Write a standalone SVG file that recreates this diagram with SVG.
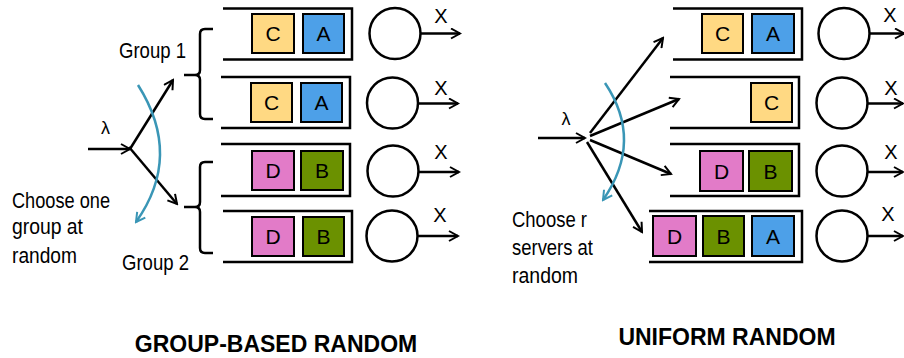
<svg xmlns="http://www.w3.org/2000/svg" width="904" height="358" viewBox="0 0 904 358">
<style>
.q{fill:none;stroke:#000;stroke-width:2.5}
.b{stroke:#000;stroke-width:2}
.c{fill:#FFD983}.a{fill:#4DA0E8}.d{fill:#E27BC8}.g{fill:#6B9100}
.bl{font-family:"Liberation Sans",Arial,sans-serif;font-size:21px;text-anchor:middle;fill:#000}
.srv{fill:#fff;stroke:#000;stroke-width:2.5}
.ln{fill:none;stroke:#000;stroke-width:2.5}
.blue{fill:none;stroke:#3A96B6;stroke-width:2.5}
.lbl{font-family:"Liberation Sans",Arial,sans-serif;font-size:22px;fill:#000}
.x{font-family:"Liberation Sans",Arial,sans-serif;font-size:20px;text-anchor:middle;fill:#000}
.lam{font-family:"Liberation Sans",Arial,sans-serif;font-size:18px;text-anchor:middle;fill:#000}
.title{font-family:"Liberation Sans",Arial,sans-serif;font-size:23px;font-weight:bold;text-anchor:middle;fill:#000}
</style>
<defs>
<marker id="ah" viewBox="0 0 12 12" refX="10" refY="6" markerWidth="12" markerHeight="12" markerUnits="userSpaceOnUse" orient="auto">
<path d="M1,1 L10,6 L1,11" fill="none" stroke="#000" stroke-width="2"/>
</marker>
<marker id="ahb" viewBox="0 0 12 12" refX="10" refY="6" markerWidth="12" markerHeight="12" markerUnits="userSpaceOnUse" orient="auto">
<path d="M1,1 L10,6 L1,11" fill="none" stroke="#3A96B6" stroke-width="2"/>
</marker>
</defs>
<rect width="904" height="358" fill="#fff"/>

<!-- LEFT PANEL -->
<g id="L-queue1">
<path class="q" d="M223 8.5 H352 V59.5 H223"/>
<rect class="b c" x="252" y="14" width="42" height="39"/><text class="bl" x="273" y="41">C</text>
<rect class="b a" x="303" y="14" width="41" height="39"/><text class="bl" x="323.5" y="41">A</text>
</g>
<g id="L-queue2">
<path class="q" d="M221 77 H350 V128 H221"/>
<rect class="b c" x="251" y="83" width="41" height="39"/><text class="bl" x="271.5" y="110">C</text>
<rect class="b a" x="301" y="83" width="41" height="39"/><text class="bl" x="321.5" y="110">A</text>
</g>
<g id="L-queue3">
<path class="q" d="M221 144 H350 V196 H221"/>
<rect class="b d" x="252" y="151" width="42" height="39"/><text class="bl" x="273" y="178">D</text>
<rect class="b g" x="301" y="151" width="42" height="39"/><text class="bl" x="322" y="178">B</text>
</g>
<g id="L-queue4">
<path class="q" d="M223 211 H352 V262 H223"/>
<rect class="b d" x="252" y="217" width="42" height="39"/><text class="bl" x="273" y="244">D</text>
<rect class="b g" x="303" y="217" width="41" height="39"/><text class="bl" x="323.5" y="244">B</text>
</g>
<g id="L-server1"><circle class="srv" cx="395" cy="33.5" r="25.5"/><text class="x" x="441" y="23">X</text></g>
<g id="L-server2"><circle class="srv" cx="392.5" cy="103" r="25.5"/><text class="x" x="441" y="95">X</text></g>
<g id="L-server3"><circle class="srv" cx="393" cy="171" r="25.5"/><text class="x" x="441" y="159">X</text></g>
<g id="L-server4"><circle class="srv" cx="392" cy="236" r="25.5"/><text class="x" x="440" y="222">X</text></g>
<g id="L-group1">
<path class="ln" d="M213 29 H205 Q200 29 200 34 V70 Q200 75 195 75 H184 M195 75 Q200 75 200 80 V114 Q200 119 205 119 H213"/>
<text class="lbl" x="119" y="58" textLength="67" lengthAdjust="spacingAndGlyphs">Group 1</text>
</g>
<g id="L-group2">
<path class="ln" d="M213 162 H205 Q200 162 200 167 V202 Q200 207 195 207 H184 M195 207 Q200 207 200 212 V248 Q200 253 205 253 H213"/>
<text class="lbl" x="122" y="270" textLength="67" lengthAdjust="spacingAndGlyphs">Group 2</text>
</g>
<g id="L-note">
<text class="lam" x="105.5" y="134">λ</text>
<text class="lbl" x="12" y="208" textLength="98" lengthAdjust="spacingAndGlyphs">Choose one</text>
<text class="lbl" x="12" y="234" textLength="71" lengthAdjust="spacingAndGlyphs">group at</text>
<text class="lbl" x="12" y="263" textLength="65" lengthAdjust="spacingAndGlyphs">random</text>
</g>

<!-- RIGHT PANEL -->
<g id="R-queue1">
<path class="q" d="M673 8.5 H802 V59.5 H673"/>
<rect class="b c" x="702" y="14" width="41" height="39"/><text class="bl" x="722.5" y="41">C</text>
<rect class="b a" x="752" y="14" width="42" height="39"/><text class="bl" x="773" y="41">A</text>
</g>
<g id="R-queue2">
<path class="q" d="M670 77 H799 V128 H670"/>
<rect class="b c" x="751" y="83" width="41" height="39"/><text class="bl" x="771.5" y="110">C</text>
</g>
<g id="R-queue3">
<path class="q" d="M670 144 H799 V196 H670"/>
<rect class="b d" x="700" y="151" width="43" height="40"/><text class="bl" x="721.5" y="178.5">D</text>
<rect class="b g" x="749" y="151" width="43" height="40"/><text class="bl" x="770.5" y="178.5">B</text>
</g>
<g id="R-queue4">
<path class="q" d="M649 211 H802 V262 H649"/>
<rect class="b d" x="653" y="216" width="43" height="40"/><text class="bl" x="674.5" y="243.5">D</text>
<rect class="b g" x="703" y="216" width="41" height="40"/><text class="bl" x="723.5" y="243.5">B</text>
<rect class="b a" x="752" y="216" width="42" height="40"/><text class="bl" x="773" y="243.5">A</text>
</g>
<g id="R-server1"><circle class="srv" cx="844" cy="33.5" r="25.5"/><text class="x" x="890" y="22">X</text></g>
<g id="R-server2"><circle class="srv" cx="842" cy="103" r="25.5"/><text class="x" x="891" y="95">X</text></g>
<g id="R-server3"><circle class="srv" cx="842" cy="171" r="25.5"/><text class="x" x="891" y="159">X</text></g>
<g id="R-server4"><circle class="srv" cx="842" cy="236" r="25.5"/><text class="x" x="888" y="221">X</text></g>
<g id="R-note">
<text class="lam" x="566" y="125">λ</text>
<text class="lbl" x="512" y="227" textLength="75" lengthAdjust="spacingAndGlyphs">Choose r</text>
<text class="lbl" x="512" y="255" textLength="81" lengthAdjust="spacingAndGlyphs">servers at</text>
<text class="lbl" x="512" y="283" textLength="66" lengthAdjust="spacingAndGlyphs">random</text>
</g>

<g id="connectors">
<!-- left -->
<path class="ln" d="M88 149 H130" marker-end="url(#ah)"/>
<path class="ln" d="M130 149 L173 80" marker-end="url(#ah)"/>
<path class="ln" d="M129 147 L177 204" marker-end="url(#ah)"/>
<path class="blue" d="M138 85 Q183 156 136 222" marker-end="url(#ahb)"/>
<path class="ln" d="M420.5 33.5 H460" marker-end="url(#ah)"/>
<path class="ln" d="M418 103.5 H458" marker-end="url(#ah)"/>
<path class="ln" d="M418.5 172 H459" marker-end="url(#ah)"/>
<path class="ln" d="M417.5 236 H458" marker-end="url(#ah)"/>
<!-- right -->
<path class="ln" d="M538 138 H585" marker-end="url(#ah)"/>
<path class="ln" d="M590 133 L663 38" marker-end="url(#ah)"/>
<path class="ln" d="M590 136 L679 99" marker-end="url(#ah)"/>
<path class="ln" d="M590 140 L671 174" marker-end="url(#ah)"/>
<path class="ln" d="M587 142 L642 232" marker-end="url(#ah)"/>
<path class="blue" d="M605 83 Q644 141 603 200" marker-end="url(#ahb)"/>
<path class="ln" d="M869.5 33.5 H904" marker-end="url(#ah)"/>
<path class="ln" d="M867.5 103.5 H903" marker-end="url(#ah)"/>
<path class="ln" d="M867.5 172 H903" marker-end="url(#ah)"/>
<path class="ln" d="M867.5 236 H903" marker-end="url(#ah)"/>
</g>

<g id="titles">
<text class="title" x="276" y="352">GROUP-BASED RANDOM</text>
<text class="title" x="727" y="345">UNIFORM RANDOM</text>
</g>
</svg>
